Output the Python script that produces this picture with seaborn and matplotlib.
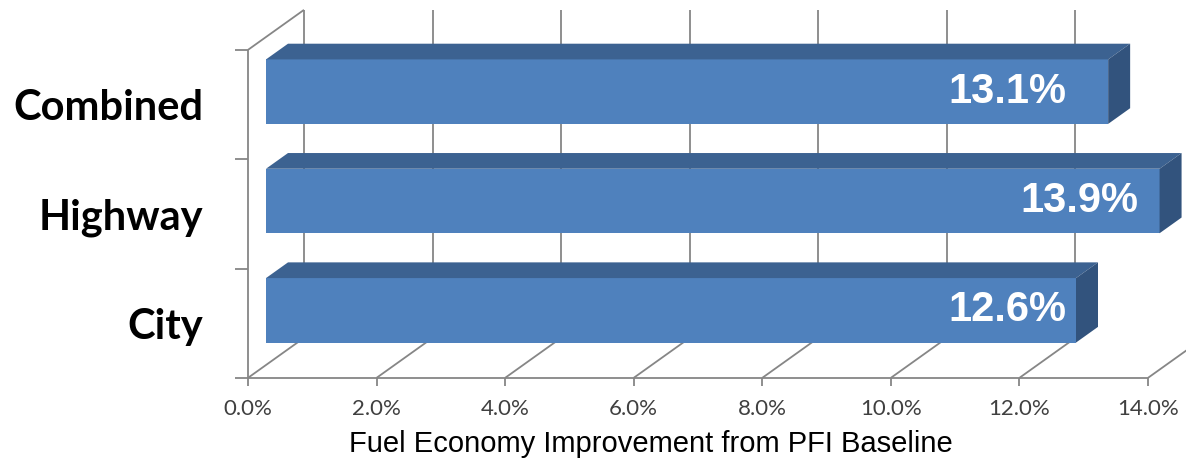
import matplotlib
matplotlib.use("Agg")
import matplotlib.pyplot as plt
from matplotlib.patches import Polygon
from matplotlib.lines import Line2D
from matplotlib.transforms import IdentityTransform, ScaledTranslation
import numpy as np
import pandas as pd
import seaborn as sns

# ---- data ----
categories = ["Combined", "Highway", "City"]
improvement = [13.1, 13.9, 12.6]
value_labels = ["13.1%", "13.9%", "12.6%"]
tick_values = [0, 2, 4, 6, 8, 10, 12, 14]
tick_labels = ["0.0%", "2.0%", "4.0%", "6.0%", "8.0%", "10.0%", "12.0%", "14.0%"]
axis_title = "Fuel Economy Improvement from PFI Baseline"

# where each value label is centred along the value axis
label_centres = [11.53, 12.66, 11.53]

# ---- style ----
FRONT = "#4F81BD"
TOP = "#3C6291"
SIDE = "#32537D"
GRID = "#868686"
GRID_LW = 1.3

W, H, DPI = 1186, 459, 100

sns.set_theme(style="white")
plt.rcParams["font.family"] = ["Liberation Sans", "DejaVu Sans"]

fig = plt.figure(figsize=(W / DPI, H / DPI), dpi=DPI)
fig.patch.set_facecolor("white")

# the axes is the plane holding the front faces of the bars
ax = fig.add_axes([266 / W, 1 - 365 / H, 900 / W, 328 / H])
ax.set_facecolor("none")

df = pd.DataFrame({"category": categories, "improvement": improvement})
sns.barplot(data=df, x="improvement", y="category", orient="h", color=FRONT,
            saturation=1, width=0.59, linewidth=0, ax=ax, zorder=3)

ax.set_xlim(0, 14)
ax.set_ylim(2.5, -0.5)
ax.set_xticks(tick_values, tick_labels)
ax.set_ylabel("")
ax.grid(False)
for sp in ax.spines.values():
    sp.set_visible(False)

ax.tick_params(axis="x", length=0, pad=15.5, labelsize=16, labelcolor="#404040")
ax.tick_params(axis="y", length=0, pad=32, labelsize=30, labelcolor="black")
for lab in ax.get_xticklabels():
    lab.set_fontfamily("Lato")
for lab in ax.get_yticklabels():
    lab.set_fontfamily("Lato")
    lab.set_fontweight("bold")

# ---- pseudo-3D geometry (pixels): full depth from front wall to back wall ----
DEPTH = np.array([56.0, 40.0])
D_BAR_FRONT = 18 / 56
D_BAR_BACK = 40 / 56

# tick labels sit on the front wall (depth 0)
front_shift = ScaledTranslation(DEPTH[0] * (0 - D_BAR_FRONT) / DPI,
                                DEPTH[1] * (0 - D_BAR_FRONT) / DPI,
                                fig.dpi_scale_trans)
for lab in ax.get_xticklabels() + ax.get_yticklabels():
    lab.set_transform(lab.get_transform() + front_shift)

ax.set_xlabel(axis_title, fontsize=21, color="black", family="Liberation Sans")
ax.xaxis.set_label_coords(0.428, -0.24)
ax.xaxis.label.set_va("center")


def px(x, y, d):
    """Display position of data point (x, y) pushed to depth d."""
    return ax.transData.transform((x, y)) + DEPTH * (d - D_BAR_FRONT)


def seg(p, q):
    ax.add_artist(Line2D([p[0], q[0]], [p[1], q[1]], transform=IdentityTransform(),
                         color=GRID, lw=GRID_LW, zorder=1, clip_on=False,
                         solid_capstyle="butt"))


y_top, y_bot = -0.5, 2.5
edges = [-0.5, 0.5, 1.5, 2.5]

# left wall
seg(px(0, y_top, 0), px(0, y_bot, 0))
seg(px(0, y_top, 0), px(0, y_top, 1))
for e in edges:
    p = px(0, e, 0)
    seg(p, p + np.array([-13, 0]))

# floor front edge, ticks, floor lines and back-wall gridlines
seg(px(0, y_bot, 0), px(14, y_bot, 0))
for v in tick_values:
    p = px(v, y_bot, 0)
    seg(p, p + np.array([0, -8]))
    seg(p, px(v, y_bot, 1))
    seg(px(v, y_top, 1), px(v, y_bot, 1))

# top and side faces of the bars
for bar in ax.patches:
    x0 = bar.get_x()
    x1 = x0 + bar.get_width()
    yt = bar.get_y()
    yb = yt + bar.get_height()
    top = [px(x0, yt, D_BAR_FRONT), px(x1, yt, D_BAR_FRONT),
           px(x1, yt, D_BAR_BACK), px(x0, yt, D_BAR_BACK)]
    side = [px(x1, yt, D_BAR_FRONT), px(x1, yb, D_BAR_FRONT),
            px(x1, yb, D_BAR_BACK), px(x1, yt, D_BAR_BACK)]
    ax.add_artist(Polygon(top, closed=True, transform=IdentityTransform(),
                          facecolor=TOP, edgecolor="none", zorder=3, clip_on=False))
    ax.add_artist(Polygon(side, closed=True, transform=IdentityTransform(),
                          facecolor=SIDE, edgecolor="none", zorder=3, clip_on=False))

# value labels on the bar faces
for i, txt in enumerate(value_labels):
    ax.text(label_centres[i], i, txt, ha="center", va="center", color="white",
            fontsize=30, fontweight="bold", family="Liberation Sans", zorder=5)

fig.savefig("out.png", dpi=DPI, facecolor="white")
